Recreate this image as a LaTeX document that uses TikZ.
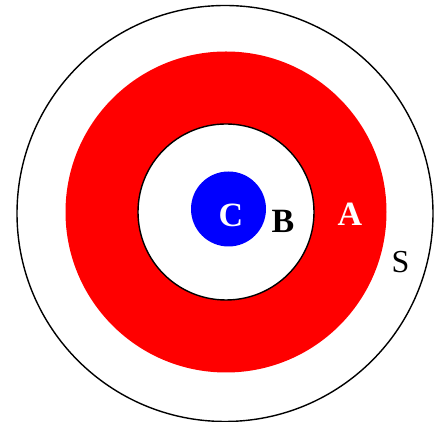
\documentclass[tikz,border=0pt]{standalone}
\usepackage{fontspec}
\setmainfont{Liberation Serif}
\begin{document}
\begin{tikzpicture}[x=1pt,y=1pt,
  ring/.style={draw=black,line width=1.4pt},
  lbl/.style={inner sep=0pt,font=\fontsize{34}{38}\selectfont\bfseries},
  lbl2/.style={inner sep=0pt,font=\fontsize{32}{38}\selectfont}]
\useasboundingbox (0,0) rectangle (440,422);
\draw[ring,fill=white] (225,208.5) circle (208);
\fill[red] (226,210) circle (160.5);
\draw[ring,fill=white] (226,210) circle (88);
\fill[blue] (228.5,213) circle (37.5);
\node[lbl,text=white] (C) at (231,207) {C};
\node[lbl] (B) at (283,201) {B};
\node[lbl,text=white] (A) at (350,208) {A};
\node[lbl2] (S) at (400.5,159.5) {S};
\end{tikzpicture}
\end{document}
